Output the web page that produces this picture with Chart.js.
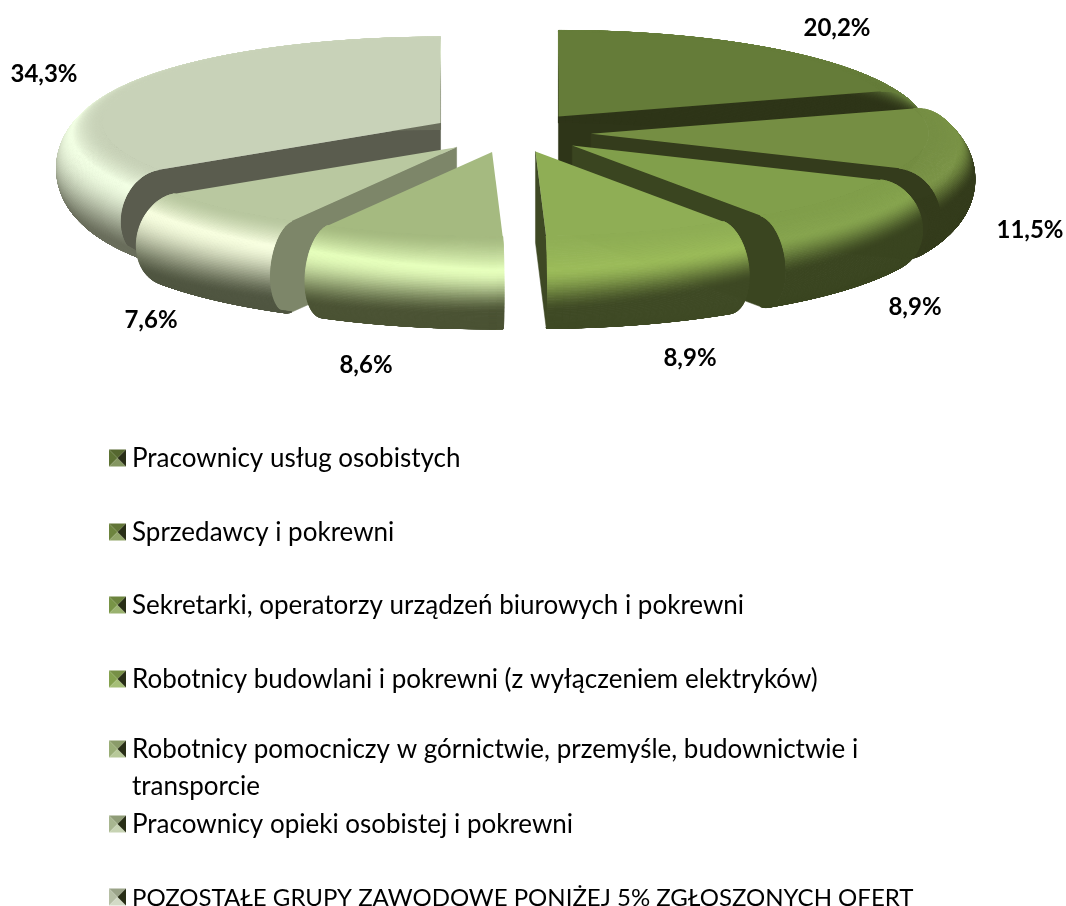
<!DOCTYPE html>
<html><head><meta charset="utf-8">
<script src="https://cdn.jsdelivr.net/npm/chart.js@4"></script>
<style>html,body{margin:0;padding:0;background:#fff}canvas{display:block}</style>
</head><body>
<canvas id="c" width="1066" height="906"></canvas>
<script>
const categories = [
  "Pracownicy usług osobistych",
  "Sprzedawcy i pokrewni",
  "Sekretarki, operatorzy urządzeń biurowych i pokrewni",
  "Robotnicy budowlani i pokrewni (z wyłączeniem elektryków)",
  ["Robotnicy pomocniczy w górnictwie, przemyśle, budownictwie i", "transporcie"],
  "Pracownicy opieki osobistej i pokrewni",
  "POZOSTAŁE GRUPY ZAWODOWE PONIŻEJ 5% ZGŁOSZONYCH OFERT"
];
const values = [20.2, 11.5, 8.9, 8.9, 8.6, 7.6, 34.3];
const flatColors = ["#657c39", "#758e43", "#819f4b", "#8fae55", "#a5ba80", "#b9c8a0", "#c8d2b8"];
const lightColors = ["#6a8240", "#7a9346", "#87a54f", "#9bbb59", "#e6ffbc", "#f8ffe0", "#f2ffe4"];
const darkColors = ["#2e3518", "#343c1c", "#3a4520", "#3e4924", "#4a5233", "#4f5540", "#6a6e5c"];
const cutColors = ["#2e3518", "#343c1c", "#3a4520", "#3e4924", "#4a5233", "#7d8669", "#5a5c4e"];

// layout of the drawing
const SQUASH = 0.25, EXPLODE = 80, BEVEL = 46, THICK = 91;
const labelAnchors = [[837,28],[1030,230],[915,307],[690,358],[366,365],[151,320],[44,74]];
const legendRows = [459,533,606,680,750,825,898];
const LEGEND_LINE = 37, LEGEND_X = 132, SWATCH_X = 109, SWATCH = 17;

const hex = h => [1,3,5].map(i => parseInt(h.substr(i,2),16));
const mix = (a,b,f) => a.map((v,i) => v+(b[i]-v)*f);
const css = c => `rgb(${c.map(v=>Math.round(v)).join(',')})`;

function rimColor(i, t, az){
  const s = Math.sin(az);
  const t1 = 1.05 - 0.35*Math.abs(s), t2 = 2.05 - 0.7*Math.max(s,0) + 0.2*Math.max(-s,0);
  const f = hex(flatColors[i]), l = hex(lightColors[i]), d = hex(darkColors[i]);
  if (t < t1) { const u=t/t1; return mix(f,l,u*u); }
  if (t < t2) { const u=(t-t1)/(t2-t1); return mix(l,d,u*u*(3-2*u)); }
  return d;
}

const pie3d = {
  id: 'pie3d',
  beforeDatasetsDraw(chart){
    const ctx = chart.ctx, arcs = chart.getDatasetMeta(0).data;
    const order = arcs.map((a,i)=>i).sort((p,q)=>{
      const m = e => Math.sin((e.startAngle+e.endAngle)/2);
      return m(arcs[p]) - m(arcs[q]);
    });
    ctx.save();
    for (const i of order){
      const e = arcs[i], a0 = e.startAngle+Math.PI/2, a1 = e.endAngle+Math.PI/2, r0 = e.outerRadius;
      const mid = (a0+a1)/2;
      const ax = e.x + EXPLODE*Math.sin(mid), ay = e.y - EXPLODE*SQUASH*Math.cos(mid);
      const ptAt = (a,t) => {
        const r = r0 + BEVEL*Math.sin(t), z = THICK/2*(1-Math.cos(t));
        return [ax + r*Math.sin(a), ay - r*SQUASH*Math.cos(a) + z];
      };
      // cut faces
      const face = a => {
        ctx.beginPath(); ctx.moveTo(ax,ay);
        for (let k=0;k<=40;k++){ const p=ptAt(a,Math.PI*k/40); ctx.lineTo(p[0],p[1]); }
        ctx.lineTo(ax,ay+THICK); ctx.closePath();
        ctx.fillStyle = cutColors[i]; ctx.strokeStyle = cutColors[i]; ctx.lineWidth=.5; ctx.fill(); ctx.stroke();
      };
      if (Math.sin(a0) < 0) face(a0);
      if (Math.sin(a1) > 0) face(a1);
      // rounded rim
      const nt = 90, na = Math.max(6, Math.round((a1-a0)*50));
      for (let k=nt-1;k>=0;k--){
        const t0=Math.PI*k/nt, t1=Math.PI*(k+1)/nt;
        for (let j=0;j<na;j++){
          const b0=a0+(a1-a0)*j/na, b1=a0+(a1-a0)*(j+1)/na;
          const c = css(rimColor(i,(t0+t1)/2,(b0+b1)/2));
          const p=[ptAt(b0,t0),ptAt(b1,t0),ptAt(b1,t1),ptAt(b0,t1)];
          ctx.beginPath(); ctx.moveTo(p[0][0],p[0][1]);
          for(let q=1;q<4;q++) ctx.lineTo(p[q][0],p[q][1]);
          ctx.closePath(); ctx.fillStyle=c; ctx.strokeStyle=c; ctx.lineWidth=1; ctx.fill(); ctx.stroke();
        }
      }
      // flat top
      ctx.beginPath(); ctx.moveTo(ax,ay);
      for (let j=0;j<=na*2;j++){ const p=ptAt(a0+(a1-a0)*j/(na*2),0); ctx.lineTo(p[0],p[1]); }
      ctx.closePath(); ctx.fillStyle=flatColors[i]; ctx.fill();
    }
    ctx.restore();
    return false;
  },
  afterDraw(chart){
    const ctx = chart.ctx, labels = chart.data.labels, vals = chart.data.datasets[0].data;
    ctx.save();
    ctx.fillStyle='#000'; ctx.textBaseline='middle';
    ctx.font='bold 24px Lato'; ctx.textAlign='center';
    vals.forEach((v,i)=>ctx.fillText(v.toFixed(1).replace('.',',')+'%', labelAnchors[i][0], labelAnchors[i][1]));
    ctx.textAlign='left';
    labels.forEach((lab,i)=>{
      const y = legendRows[i], lines = Array.isArray(lab)?lab:[lab];
      ctx.fillStyle='#000';
      const txt = lines.join('');
      ctx.font = (txt === txt.toUpperCase() ? 24 : 26) + 'px Lato';
      lines.forEach((ln,k)=>ctx.fillText(ln, LEGEND_X, y+k*LEGEND_LINE));
      const f=hex(flatColors[i]), d=hex(cutColors[i<5?i:0]), x=SWATCH_X, h=SWATCH, yy=y-1-h/2;
      const tri=(pts,c)=>{ctx.beginPath();ctx.moveTo(pts[0],pts[1]);ctx.lineTo(pts[2],pts[3]);ctx.lineTo(pts[4],pts[5]);ctx.closePath();ctx.fillStyle=css(c);ctx.fill();};
      const cx=x+h/2, cy=yy+h/2;
      tri([x,yy,x+h,yy,cx,cy],mix(f,d,.3));
      tri([x,yy,x,yy+h,cx,cy],mix(f,d,.12));
      tri([x,yy+h,x+h,yy+h,cx,cy],mix(f,[255,255,255],.2));
      tri([x+h,yy,x+h,yy+h,cx,cy],[40,46,22]);
    });
    ctx.restore();
  }
};

new Chart(document.getElementById('c'), {
  type: 'pie',
  data: { labels: categories, datasets: [{ data: values, backgroundColor: flatColors, borderWidth: 0 }] },
  options: {
    responsive: false, animation: false,
    radius: 338,
    layout: { padding: { left: 0, right: 44, top: 0, bottom: 641 } },
    plugins: { legend: { display: false }, tooltip: { enabled: false } },
    events: []
  },
  plugins: [pie3d]
});
</script>
</body></html>
